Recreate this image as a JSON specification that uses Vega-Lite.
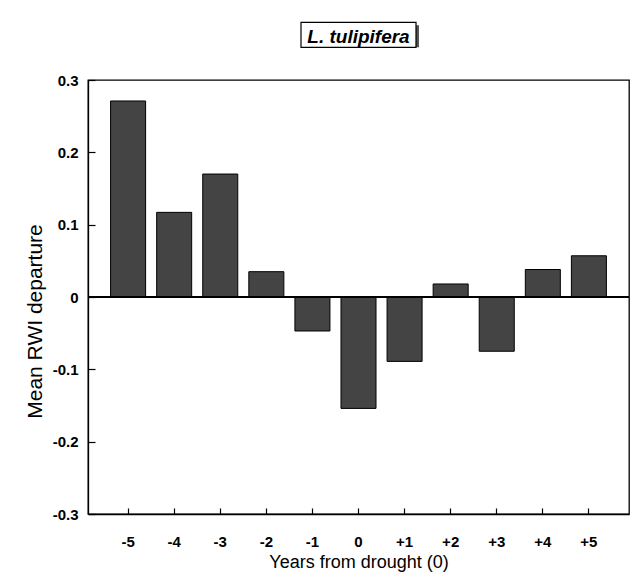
{
  "$schema": "https://vega.github.io/schema/vega-lite/v6.json",
  "width": 541,
  "height": 434,
  "autosize": "none",
  "padding": {"left": 88, "top": 80, "right": 3, "bottom": 63},
  "background": "white",
  "config": {
    "font": "Liberation Sans",
    "view": {"stroke": "black", "strokeWidth": 1.3},
    "axis": {"domainColor": "black", "tickColor": "black", "labelColor": "black", "titleColor": "black", "grid": false, "ticks": true, "titleFontWeight": "normal", "zindex": 1}
  },
  "data": {
    "values": [
      {"year": "-5", "dep": 0.271},
      {"year": "-4", "dep": 0.117},
      {"year": "-3", "dep": 0.170},
      {"year": "-2", "dep": 0.035},
      {"year": "-1", "dep": -0.047},
      {"year": "0", "dep": -0.154},
      {"year": "+1", "dep": -0.089},
      {"year": "+2", "dep": 0.018},
      {"year": "+3", "dep": -0.075},
      {"year": "+4", "dep": 0.038},
      {"year": "+5", "dep": 0.057}
    ]
  },
  "layer": [
    {
      "mark": {"type": "bar", "fill": "#444444", "stroke": "black", "strokeWidth": 1},
      "encoding": {
        "x": {
          "field": "year", "type": "ordinal", "sort": null,
          "scale": {"paddingInner": 0.24, "paddingOuter": 0.49},
          "axis": {"title": "Years from drought (0)", "titleFontSize": 18, "titlePadding": 4, "labelFontSize": 15, "labelFontWeight": "bold", "labelAngle": 0, "ticks": true, "tickSize": -6, "tickWidth": 1.2, "tickColor": "black", "labelPadding": 26, "domain": true, "domainWidth": 1.3, "zindex": 1}
        },
        "y": {
          "field": "dep", "type": "quantitative",
          "scale": {"domain": [-0.3, 0.3], "nice": false},
          "axis": {"title": "Mean RWI departure", "titleFontSize": 21, "titleY": 241, "values": [-0.3, -0.2, -0.1, 0, 0.1, 0.2, 0.3], "labelExpr": "toString(round(datum.value*10)/10)", "labelFontSize": 15, "labelFontWeight": "bold", "ticks": true, "tickSize": -7, "tickWidth": 1.2, "tickColor": "black", "labelPadding": 17, "titlePadding": 7, "domain": true, "domainWidth": 1.3, "zindex": 1}
        }
      }
    },
    {
      "mark": {"type": "rule", "color": "black", "strokeWidth": 1.2},
      "encoding": {"y": {"datum": 0}}
    },
    {
      "data": {"values": [{}]},
      "mark": {"type": "bar", "fill": "#555555", "width": 115, "xOffset": 3, "yOffset": 3, "clip": false},
      "encoding": {"x": {"datum": "0", "type": "ordinal"}, "y": {"datum": 0.3797}, "y2": {"datum": 0.3452}}
    },
    {
      "data": {"values": [{}]},
      "mark": {"type": "bar", "fill": "white", "stroke": "black", "strokeWidth": 1.2, "width": 115, "clip": false},
      "encoding": {"x": {"datum": "0", "type": "ordinal"}, "y": {"datum": 0.3797}, "y2": {"datum": 0.3452}}
    },
    {
      "data": {"values": [{"t": "L. tulipifera"}]},
      "mark": {"type": "text", "fontSize": 19, "fontStyle": "italic", "fontWeight": "bold", "baseline": "alphabetic", "align": "center", "clip": false, "color": "black"},
      "encoding": {"x": {"datum": "0", "type": "ordinal"}, "y": {"datum": 0.3511}, "text": {"field": "t"}}
    }
  ]
}
